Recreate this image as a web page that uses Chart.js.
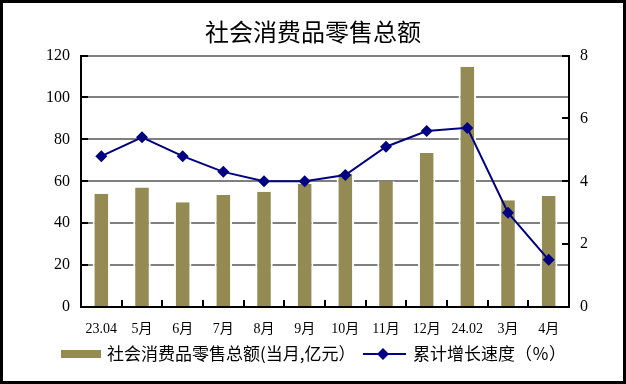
<!DOCTYPE html>
<html>
<head>
<meta charset="utf-8">
<script src="https://cdn.jsdelivr.net/npm/chart.js@4/dist/chart.umd.min.js"></script>
<style>
  html, body { margin: 0; padding: 0; background: #fff; }
  .frame { width: 626px; height: 384px; box-sizing: border-box; border: 3px solid #000; }
  canvas { display: block; }
</style>
</head>
<body>
<div class="frame"><canvas id="c" width="620" height="378"></canvas></div>
<script>
// data
const months  = ["23.04", "5月", "6月", "7月", "8月", "9月", "10月", "11月", "12月", "24.02", "3月", "4月"];
const retail  = [54, 57, 50, 53.5, 55, 58.7, 63.5, 60, 73.5, 114.7, 51, 53];   // 当月, 亿元
const growth  = [4.8, 5.4, 4.8, 4.3, 4.0, 4.0, 4.2, 5.1, 5.6, 5.7, 3.0, 1.5];  // 累计增长 %
const leftTicks  = [0, 20, 40, 60, 80, 100, 120];
const rightTicks = [0, 2, 4, 6, 8];

const serif = "'Liberation Serif', 'Noto Sans CJK SC', serif";
const cjk   = "'Noto Sans CJK SC', sans-serif";

// short black ticks pointing into the plot
const innerTicks = {
    id: "innerTicks",
    afterDatasetsDraw(chart){
        const {ctx, chartArea: a, scales: {x, y, y1}} = chart;
        const L = 7;
        ctx.save();
        ctx.strokeStyle = "#000"; ctx.lineWidth = 2;
        ctx.beginPath();
        leftTicks.forEach(v => { const py = Math.round(y.getPixelForValue(v)); ctx.moveTo(a.left, py); ctx.lineTo(a.left + L, py); });
        rightTicks.forEach(v => { const py = Math.round(y1.getPixelForValue(v)); ctx.moveTo(a.right, py); ctx.lineTo(a.right - L, py); });
        const half = (x.getPixelForValue(1) - x.getPixelForValue(0)) / 2;
        for (let i = 1; i < months.length; i++){
            const px = Math.round(x.getPixelForValue(i) - half);
            ctx.moveTo(px, a.bottom); ctx.lineTo(px, a.bottom - L);
        }
        ctx.stroke();
        ctx.restore();
    }
};

// legend under the axis
const legendRow = {
    id: "legendRow",
    afterDraw(chart){
        const {ctx} = chart;
        const [bar, line] = chart.data.datasets;
        const cy = 351;
        ctx.save();
        ctx.fillStyle = bar.backgroundColor;
        ctx.fillRect(58, cy - 4, 40, 8);
        ctx.font = "17px " + cjk;
        ctx.textBaseline = "middle";
        ctx.fillStyle = "#000";
        ctx.fillText(bar.label, 104, cy);
        ctx.strokeStyle = line.borderColor; ctx.lineWidth = 2;
        ctx.beginPath(); ctx.moveTo(360, cy); ctx.lineTo(403, cy); ctx.stroke();
        ctx.fillStyle = line.borderColor;
        ctx.beginPath();
        ctx.moveTo(380, cy - 6); ctx.lineTo(386, cy); ctx.lineTo(380, cy + 6); ctx.lineTo(374, cy); ctx.closePath();
        ctx.fill();
        ctx.fillStyle = "#000";
        ctx.fillText(line.label, 410, cy);
        ctx.restore();
    }
};

new Chart(document.getElementById("c"), {
    data: {
        labels: months,
        datasets: [
            {
                type: "bar",
                label: "社会消费品零售总额(当月,亿元）",
                data: retail,
                yAxisID: "y",
                backgroundColor: "#948A54",
                borderColor: "#fff",
                borderWidth: {left: 2, right: 2, top: 0, bottom: 0},
                barPercentage: 0.43,
                categoryPercentage: 1,
                order: 2
            },
            {
                type: "line",
                label: "累计增长速度（％）",
                data: growth,
                yAxisID: "y1",
                borderColor: "#000080",
                backgroundColor: "#000080",
                borderWidth: 2,
                pointStyle: "rectRot",
                pointRadius: 6,
                pointBackgroundColor: "#000080",
                pointBorderColor: "#000080",
                pointBorderWidth: 0,
                tension: 0,
                order: 1
            }
        ]
    },
    options: {
        responsive: false,
        animation: false,
        layout: { padding: 0 },
        plugins: {
            legend: { display: false },
            tooltip: { enabled: false },
            title: {
                display: true,
                text: "社会消费品零售总额",
                color: "#000",
                font: { family: cjk, size: 24, weight: "normal" },
                padding: { top: 14.6, bottom: 9.2 }
            }
        },
        scales: {
            x: {
                offset: true,
                grid: { display: false },
                border: { display: true, color: "#000", width: 2 },
                ticks: { color: "#000", font: { family: serif, size: 14 }, padding: 6, maxRotation: 0, autoSkip: false },
                afterFit: s => { s.height = 74; }
            },
            y: {
                position: "left",
                min: 0, max: 120,
                afterBuildTicks: s => { s.ticks = leftTicks.map(v => ({value: v})); },
                grid: {
                    drawTicks: false,
                    color: c => c.tick && c.tick.value === 0 ? "rgba(0,0,0,0)" : "#808080",
                    lineWidth: 2
                },
                border: { display: true, color: "#000", width: 2 },
                ticks: { color: "#000", font: { family: serif, size: 16 }, padding: 11 },
                afterFit: s => { s.width = 78; }
            },
            y1: {
                position: "right",
                min: 0, max: 8,
                afterBuildTicks: s => { s.ticks = rightTicks.map(v => ({value: v})); },
                grid: { drawOnChartArea: false, drawTicks: false },
                border: { display: true, color: "#000", width: 2 },
                ticks: { color: "#000", font: { family: serif, size: 16 }, padding: 11 },
                afterFit: s => { s.width = 54; }
            }
        }
    },
    plugins: [innerTicks, legendRow]
});
</script>
</body>
</html>
